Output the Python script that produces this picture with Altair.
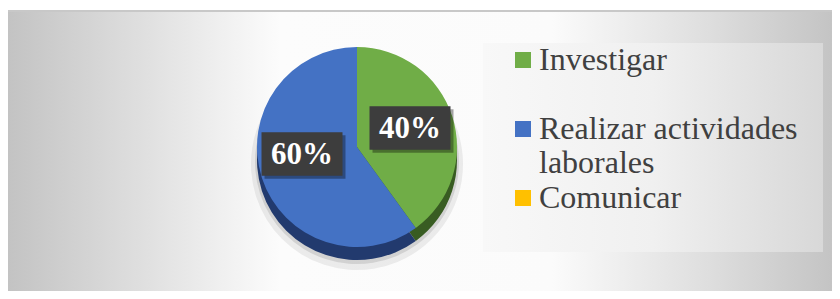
import altair as alt
import pandas as pd

# ---- data ----
categorias = ["Investigar", "Realizar actividades laborales", "Comunicar"]
valores = [40, 60, 0]
orden = [1, 2, 3]
colores = ["#70AD47", "#4472C4", "#FFC000"]
colores_lado = ["#385C22", "#223A6E", "#A67C00"]

df = pd.DataFrame({"categoria": categorias, "valor": valores, "orden": orden})

W, H = 824, 279
CX, CY, R, DEPTH = 349, 135, 100, 13

base = alt.Chart(df)
deco = alt.Chart(alt.Data(values=[{}]))

# background gradient panel
bg = deco.mark_rect(
    fill={
        "gradient": "linear", "x1": 0, "y1": 0, "x2": 1, "y2": 0,
        "stops": [
            {"offset": 0.0, "color": "#c3c3c3"},
            {"offset": 0.18, "color": "#e2e2e2"},
            {"offset": 0.33, "color": "#fcfcfc"},
            {"offset": 0.66, "color": "#fbfbfb"},
            {"offset": 0.85, "color": "#dedede"},
            {"offset": 1.0, "color": "#c4c4c4"},
        ],
    }
).encode(x=alt.value(0), x2=alt.value(W), y=alt.value(0), y2=alt.value(H))

top_line = deco.mark_rule(color="#c8c8c8", strokeWidth=2).encode(
    x=alt.value(0), x2=alt.value(W), y=alt.value(-1)
)

legend_box = deco.mark_rect(
    fill={
        "gradient": "linear", "x1": 0, "y1": 0, "x2": 1, "y2": 0,
        "stops": [
            {"offset": 0.0, "color": "#f8f8f8"},
            {"offset": 0.5, "color": "#f0f0f0"},
            {"offset": 1.0, "color": "#d8d8d8"},
        ],
    }
).encode(x=alt.value(475), x2=alt.value(815), y=alt.value(31), y2=alt.value(240))

theta = alt.Theta("valor:Q", stack=True)
order = alt.Order("orden:Q")

shadow1 = base.mark_arc(radius=R + 6, yOffset=DEPTH + 4, opacity=0.12, fill="#707070").encode(
    theta=theta, order=order, x=alt.value(CX), y=alt.value(CY)
)
shadow2 = base.mark_arc(radius=R + 2, yOffset=DEPTH + 2, opacity=0.2, fill="#707070").encode(
    theta=theta, order=order, x=alt.value(CX), y=alt.value(CY)
)

side_fill = (
    alt.when(alt.datum.categoria == categorias[0]).then(alt.value(colores_lado[0]))
    .when(alt.datum.categoria == categorias[1]).then(alt.value(colores_lado[1]))
    .otherwise(alt.value(colores_lado[2]))
)

side = base.mark_arc(radius=R, yOffset=DEPTH).encode(
    theta=theta, order=order,
    fill=side_fill,
    x=alt.value(CX), y=alt.value(CY),
)

top = base.mark_arc(radius=R).encode(
    theta=theta, order=order,
    color=alt.Color(
        "categoria:N",
        scale=alt.Scale(domain=categorias, range=colores),
        sort=categorias,
        legend=alt.Legend(
            orient="none", legendX=499, legendY=32, title=None, padding=0,
            symbolType="square", symbolSize=256, symbolStrokeWidth=0, symbolOpacity=1,
            labelFont="Liberation Serif", labelFontSize=32, labelColor="#404040",
            labelOffset=0, labelLimit=400, rowPadding=3, gridAlign="all",
            labelExpr="length(datum.label) > 22 ? [slice(datum.label, 0, 20), slice(datum.label, 21)] : datum.label",
        ),
    ),
    x=alt.value(CX), y=alt.value(CY),
)

BOX = "M-1,-0.54H1V0.54H-1Z"


def label_layers(cat, px, py):
    src = base.transform_joinaggregate(total="sum(valor)").transform_calculate(
        pct="round(datum.valor / datum.total * 100) + '%'"
    ).transform_filter(alt.datum.categoria == cat)
    sh = src.mark_point(shape=BOX, filled=True, size=6561, color="#000000", opacity=0.35, strokeWidth=0).encode(
        x=alt.value(px + 3), y=alt.value(py + 3)
    )
    bx = src.mark_point(shape=BOX, filled=True, size=6561, color="#3d3d3d", opacity=1, strokeWidth=0).encode(
        x=alt.value(px), y=alt.value(py)
    )
    tx = src.mark_text(
        font="Liberation Serif", fontSize=31, fontWeight="bold", color="white", align="center", baseline="middle"
    ).encode(text="pct:N", x=alt.value(px), y=alt.value(py + 1))
    return [sh, bx, tx]


layers = [bg, top_line, legend_box, shadow1, shadow2, side, top]
layers += label_layers("Investigar", 402, 116)
layers += label_layers("Realizar actividades laborales", 294, 142)

chart = alt.layer(*layers).properties(
    width=W, height=H,
    padding={"left": 0, "right": 0, "top": 4, "bottom": 0},
    autosize=alt.AutoSizeParams(type="none"),
    background="white",
).configure_view(stroke=None)

chart.save("out.html", embed_options={"renderer": "svg", "actions": False})
